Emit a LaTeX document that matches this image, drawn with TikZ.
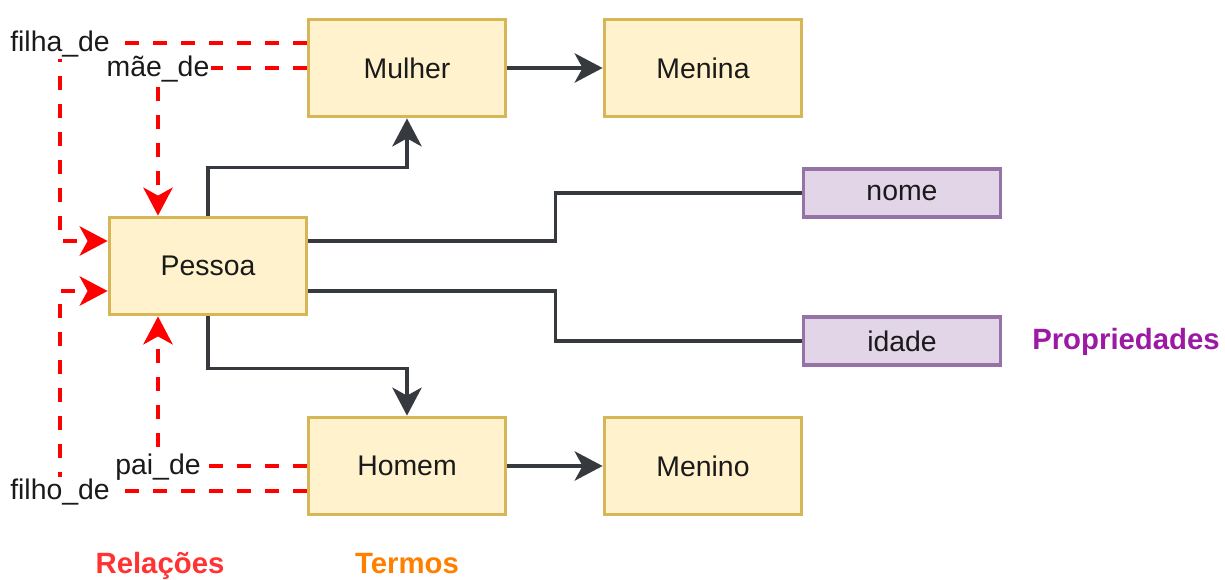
\documentclass[tikz,border=0pt]{standalone}
\usepackage{fontspec}
\setmainfont{Liberation Sans}
\usetikzlibrary{arrows.meta}
\definecolor{yfill}{HTML}{FFF2CC}
\definecolor{ystroke}{HTML}{D6B656}
\definecolor{pfill}{HTML}{E1D5E7}
\definecolor{pstroke}{HTML}{9673A6}
\definecolor{dark}{HTML}{36393D}
\definecolor{propc}{HTML}{9C19A3}
\definecolor{termc}{HTML}{FF8000}
\definecolor{relc}{HTML}{FF3333}
\definecolor{txt}{HTML}{1A1A1A}
\begin{document}
\begin{tikzpicture}[x=0.75pt,y=-0.75pt,
  every node/.style={font=\fontsize{21.3}{25}\selectfont, text=txt},
  term/.style={draw=ystroke, fill=yfill, line width=2.6pt, minimum width=148pt, minimum height=73pt, inner sep=0pt},
  prop/.style={draw=pstroke, fill=pfill, line width=2.6pt, minimum width=148pt, minimum height=36pt, inner sep=0pt},
  conn/.style={draw=dark, line width=2.7pt, -{Stealth[length=21pt,width=22pt,inset=6pt]}},
  plain/.style={draw=dark, line width=2.7pt},
  rel/.style={draw=red, line width=2.8pt, dash pattern=on 10pt off 11pt, -{Stealth[length=21pt,width=22pt,inset=6pt]}},
  rlabel/.style={fill=white, inner sep=1.5pt},
  title/.style={font=\fontsize{22}{26}\selectfont\bfseries, inner sep=1pt}]
\useasboundingbox (0,0) rectangle (1225,579);

\node[term] (mulher) at (407,68) {Mulher};
\node[term] (menina) at (703,68) {Menina};
\node[term] (pessoa) at (208,266) {Pessoa};
\node[term] (homem) at (407,466) {Homem};
\node[term] (menino) at (703,466) {Menino};
\node[prop] (nome) at (902,193) {nome};
\node[prop] (idade) at (902,341) {idade};

\draw[conn] (pessoa.north) -- ++(0,-48) -| (mulher.south);
\draw[conn] (pessoa.south) -- ++(0,52) -| (homem.north);
\draw[conn] (mulher.east) -- (menina.west);
\draw[conn] (homem.east) -- (menino.west);
\draw[plain] ([yshift=18.75pt]pessoa.east) -- ++(247,0) |- (nome.west);
\draw[plain] ([yshift=-18.75pt]pessoa.east) -- ++(247,0) |- (idade.west);

\coordinate (kfilha) at (60,43);
\coordinate (kmae) at (158,68);
\coordinate (kpai) at (158,466);
\coordinate (kfilho) at (60,491);

\draw[rel] ([yshift=18.75pt]mulher.west) -- (kfilha) |- ([yshift=18.75pt]pessoa.west);
\draw[rel] (mulher.west) -- (kmae) -- (kmae |- pessoa.north);
\draw[rel] (homem.west) -- (kpai) -- (kpai |- pessoa.south);
\draw[rel] ([yshift=-18.75pt]homem.west) -- (kfilho) |- ([yshift=-18.75pt]pessoa.west);

\node[rlabel] (lfilha) at ([yshift=-1pt]kfilha) {filha\_de};
\node[rlabel] (lmae) at ([yshift=-1pt]kmae) {mãe\_de};
\node[rlabel] (lpai) at ([yshift=-1pt]kpai) {pai\_de};
\node[rlabel] (lfilho) at ([yshift=-1pt]kfilho) {filho\_de};

\node[title, text=relc, anchor=base] (trel) at (160,573) {Relações};
\node[title, text=termc, anchor=base] (tterm) at (407,573) {Termos};
\node[title, text=propc] (tprop) at (1126,342) {Propriedades};
\end{tikzpicture}
\end{document}
